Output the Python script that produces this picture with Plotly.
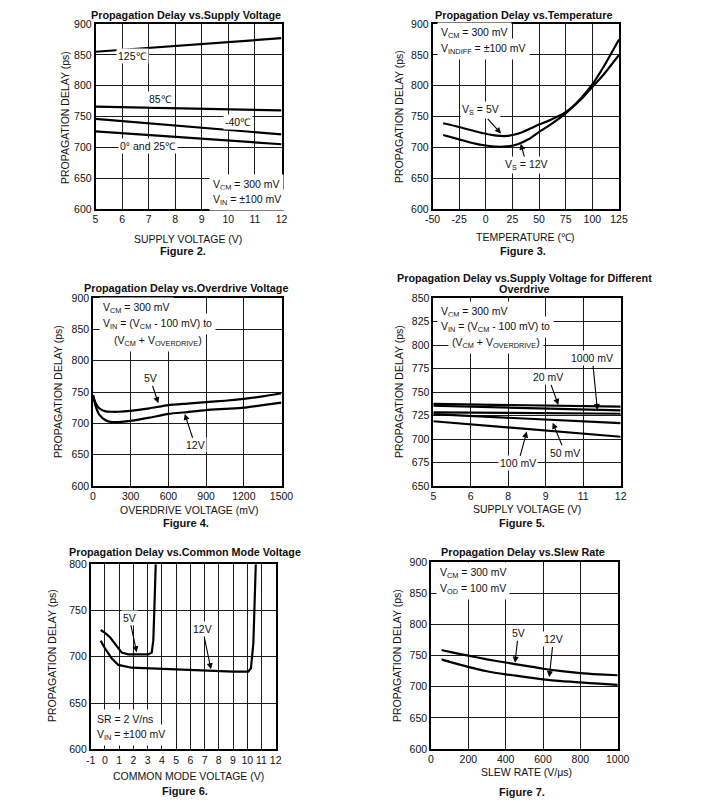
import plotly.graph_objects as go

W, H = 708, 805
OFF = 8  # page body margin in the browser
FONT = "Liberation Sans, Arial, sans-serif"

# ---------------- data ----------------
f2_vs = [5, 8.5, 12]
f2_125 = [855, 866, 877]
f2_85 = [766, 763, 760]
f2_m40 = [746, 733, 721]
f2_0_25 = [726, 715, 705]

f3_temp = [-40, -25, -10, 0, 10, 20, 30, 40, 50, 60, 75, 90, 100, 110, 125]
f3_5v = [739, 733, 726, 722, 719, 718.5, 722, 729, 737, 744, 757, 779, 798, 817, 850]
f3_12v = [720, 713, 706, 703, 701, 701.5, 705, 713, 725, 736, 755, 781, 802, 829, 875]
f3_tickvals = [-50, -25, 0, 25, 50, 75, 100, 125]
f3_ticktext = ["-50", "-25", "0", "25", "50", "75", "100", "125"]

f4_od = [0, 20, 50, 100, 150, 200, 300, 450, 600, 750, 900, 1050, 1200, 1350, 1500]
f4_5v = [745, 733, 724, 719, 718.5, 718.5, 720, 724, 729, 731.5, 734, 736, 739, 743, 748]
f4_12v = [745, 728, 714, 705, 702, 702, 704, 709, 715, 718, 721, 723, 725, 729, 733]

f5_vs = [5, 12]
f5_20mv = [737.5, 734.5]
f5_1000mv = [735.5, 730.5]
f5_other = [728.5, 727]
f5_50mv = [726.5, 717]
f5_100mv = [719, 702.5]
f5_tickvals = [5, 6.4, 7.8, 9.2, 10.6, 12]
f5_ticktext = ["5", "6", "8", "9", "11", "12"]

f6_5v_x = [-0.3, 0.0, 0.36, 0.94, 1.18, 1.64, 2.5, 3.05, 3.29, 3.40, 3.47, 3.57]
f6_5v = [729, 726, 721, 710, 704.5, 702.7, 702.7, 702.7, 704.5, 718, 750, 800]
f6_12v_x = [-0.3, 0.0, 0.47, 0.94, 1.88, 3, 4.45, 6, 7.5, 9, 10.07, 10.26, 10.43, 10.55, 10.6]
f6_12v = [717.4, 709.2, 698.4, 691.2, 688.2, 687.5, 687.1, 686, 684.6, 684, 683.9, 687.6, 714.6, 768.6, 800]
f6_tickvals = list(range(-1, 13))
f6_ticktext = [str(v) for v in f6_tickvals]

f7_sr = [57, 100, 200, 300, 400, 500, 600, 700, 800, 900, 1000]
f7_5v = [759, 756, 750, 744, 739, 734, 729, 725, 722, 720, 718.5]
f7_12v = [744, 740, 732, 725, 720, 716, 712, 709, 707, 705, 703]

# ---------------- layout helpers ----------------
def px(x):
    return (x - OFF) / W

def py(y):
    return 1 - (y - OFF) / H

def xd(a, b):
    return [px(a), px(b)]

def yd(top, bot):
    return [py(bot), py(top)]

panels = [
    dict(x=(95.5, 281.5), y=(24, 209), xr=[5, 12], yr=[600, 900], xdt=1, ydt=50),
    dict(x=(432.5, 619), y=(24, 209), xr=[-50, 125], yr=[600, 900], xt=(f3_tickvals, f3_ticktext), ydt=50),
    dict(x=(93, 281.5), y=(298, 486), xr=[0, 1500], yr=[600, 900], xdt=300, ydt=50),
    dict(x=(433.3, 620.7), y=(298.3, 486), xr=[5, 12], yr=[650, 850], xt=(f5_tickvals, f5_ticktext), ydt=25),
    dict(x=(90.7, 275.7), y=(564.3, 749.3), xr=[-1, 12], yr=[600, 800], xt=(f6_tickvals, f6_ticktext), ydt=50),
    dict(x=(431, 617.7), y=(562.3, 749), xr=[0, 1000], yr=[600, 900], xdt=200, ydt=50),
]

fig = go.Figure()
layout = dict(
    width=W, height=H, autosize=False, margin=dict(l=0, r=0, t=0, b=0, pad=0, autoexpand=False),
    paper_bgcolor="white", plot_bgcolor="white", showlegend=False,
    font=dict(family=FONT, size=10, color="#111"),
)
GRID = "#1a1a1a"
for i, p in enumerate(panels, start=1):
    sx = "" if i == 1 else str(i)
    xa = dict(domain=xd(*p["x"]), range=p["xr"], anchor="y" + sx, automargin=False,
              showgrid=True, gridcolor=GRID, gridwidth=1.3,
              showline=True, linecolor="black", linewidth=1.6, mirror=True,
              zeroline=False, ticks="", tickfont=dict(family=FONT, size=10.5, color="#111"),
              fixedrange=True)
    if "xt" in p:
        xa.update(tickmode="array", tickvals=p["xt"][0], ticktext=p["xt"][1])
    else:
        xa.update(tick0=p["xr"][0], dtick=p["xdt"])
    ya = dict(domain=yd(*p["y"]), range=p["yr"], anchor="x" + sx, automargin=False,
              showgrid=True, gridcolor=GRID, gridwidth=1.3,
              showline=True, linecolor="black", linewidth=1.6, mirror=True,
              zeroline=False, ticks="", tick0=p["yr"][0], dtick=p["ydt"],
              tickfont=dict(family=FONT, size=10.5, color="#111"), fixedrange=True)
    layout["xaxis" + sx] = xa
    layout["yaxis" + sx] = ya

def line(x, y, n, shape="spline"):
    sx = "" if n == 1 else str(n)
    fig.add_trace(go.Scatter(x=x, y=y, mode="lines", xaxis="x" + sx, yaxis="y" + sx,
                             line=dict(color="black", width=2.2, shape=shape,
                                       smoothing=0.6 if shape == "spline" else None),
                             hoverinfo="skip"))

line(f2_vs, f2_125, 1, "linear")
line(f2_vs, f2_85, 1, "linear")
line(f2_vs, f2_m40, 1, "linear")
line(f2_vs, f2_0_25, 1, "linear")
line(f3_temp, f3_5v, 2)
line(f3_temp, f3_12v, 2)
line(f4_od, f4_5v, 3)
line(f4_od, f4_12v, 3)
line(f5_vs, f5_20mv, 4, "linear")
line(f5_vs, f5_1000mv, 4, "linear")
line(f5_vs, f5_other, 4, "linear")
line(f5_vs, f5_50mv, 4, "linear")
line(f5_vs, f5_100mv, 4, "linear")
line(f6_5v_x, f6_5v, 5, "linear")
line(f6_12v_x, f6_12v, 5, "linear")
line(f7_sr, f7_5v, 6)
line(f7_sr, f7_12v, 6)

ann = []

def ptext(text, x, y, size=10, bold=False, xanchor="center", angle=0):
    ann.append(dict(text=("<b>%s</b>" % text) if bold else text, x=px(x), y=py(y),
                    xref="paper", yref="paper", showarrow=False, xanchor=xanchor,
                    yanchor="middle", textangle=angle,
                    font=dict(family=FONT, size=size, color="#111")))

def boxline(text, x, y, size=10.5):
    ann.append(dict(text=text, x=px(x), y=py(y), xref="paper", yref="paper",
                    showarrow=False, xanchor="left", yanchor="middle",
                    bgcolor="white", borderpad=3,
                    font=dict(family=FONT, size=size, color="#111")))

def dlabel(text, x, y, n, size=10.5):
    sx = "" if n == 1 else str(n)
    ann.append(dict(text=text, x=x, y=y, xref="x" + sx, yref="y" + sx, showarrow=False,
                    bgcolor="white", borderpad=1,
                    font=dict(family=FONT, size=size, color="#111")))

def arrow(text, x, y, ax, ay, n, size=10.5):
    sx = "" if n == 1 else str(n)
    ann.append(dict(text=text, x=x, y=y, ax=ax, ay=ay, xref="x" + sx, yref="y" + sx,
                    axref="x" + sx, ayref="y" + sx, showarrow=True, arrowhead=2,
                    arrowsize=1.1, arrowwidth=1.1, arrowcolor="black", standoff=0,
                    bgcolor="white", borderpad=1,
                    font=dict(family=FONT, size=size, color="#111")))

ptext("Propagation Delay vs.Supply Voltage", 186, 14.5, 10.8, True)
ptext("Propagation Delay vs.Temperature", 523, 14.5, 10.8, True)
ptext("Propagation Delay vs.Overdrive Voltage", 186, 288, 10.8, True)
ptext("Propagation Delay vs.Supply Voltage for Different", 524, 278, 10.8, True)
ptext("Overdrive", 524, 289, 10.8, True)
ptext("Propagation Delay vs.Common Mode Voltage", 185.5, 552, 10.8, True)
ptext("Propagation Delay vs.Slew Rate", 523, 552, 10.8, True)

ptext("SUPPLY VOLTAGE (V)", 188, 239, 10.5)
ptext("Figure 2.", 183, 251, 11, True)
ptext("TEMPERATURE (\u2103)", 525, 237, 10.5)
ptext("Figure 3.", 523, 251, 11, True)
ptext("OVERDRIVE VOLTAGE (mV)", 189, 510, 10.5)
ptext("Figure 4.", 186, 523, 11, True)
ptext("SUPPLY VOLTAGE (V)", 527, 509, 10.5)
ptext("Figure 5.", 522, 523, 11, True)
ptext("COMMON MODE VOLTAGE (V)", 188, 776, 10.5)
ptext("Figure 6.", 185, 791, 11, True)
ptext("SLEW RATE (V/\u03bcs)", 526, 772, 10.5)
ptext("Figure 7.", 522, 792, 11, True)

ptext("PROPAGATION DELAY (ps)", 65, 117, 10.5, angle=-90)
ptext("PROPAGATION DELAY (ps)", 399, 117, 10.5, angle=-90)
ptext("PROPAGATION DELAY (ps)", 58, 392, 10.5, angle=-90)
ptext("PROPAGATION DELAY (ps)", 399, 392, 10.5, angle=-90)
ptext("PROPAGATION DELAY (ps)", 52, 656, 10.5, angle=-90)
ptext("PROPAGATION DELAY (ps)", 397, 656, 10.5, angle=-90)

boxline("V<sub>CM</sub> = 300 mV", 209, 185)
boxline("V<sub>IN</sub> = \u00b1100 mV", 209, 200)
boxline("V<sub>CM</sub> = 300 mV", 437, 33)
boxline("V<sub>INDIFF</sub> = \u00b1100 mV", 437, 49)
boxline("V<sub>CM</sub> = 300 mV", 99, 308)
boxline("V<sub>IN</sub> = (V<sub>CM</sub> - 100 mV) to", 99, 324)
boxline("(V<sub>CM</sub> + V<sub>OVERDRIVE</sub>)", 110, 341)
boxline("V<sub>CM</sub> = 300 mV", 437, 312)
boxline("V<sub>IN</sub> = (V<sub>CM</sub> - 100 mV) to", 437, 327)
boxline("(V<sub>CM</sub> + V<sub>OVERDRIVE</sub>)", 448, 343)
boxline("SR = 2 V/ns", 93, 719)
boxline("V<sub>IN</sub> = \u00b1100 mV", 93, 735)
boxline("V<sub>CM</sub> = 300 mV", 436, 573)
boxline("V<sub>OD</sub> = 100 mV", 436, 589)

dlabel("125\u2103", 6.41, 848, 1)
dlabel("85\u2103", 7.43, 778, 1)
dlabel("-40\u2103", 10.36, 741, 1)
dlabel("0\u00b0 and 25\u2103", 6.98, 702, 1)

arrow("V<sub>S</sub> = 5V", 14.3, 722.5, -5.4, 760, 2)
arrow("V<sub>S</sub> = 12V", 32.8, 706, 38.4, 671, 2)

arrow("5V", 520, 732, 454, 772, 3)
arrow("12V", 730, 715, 812, 665, 3)

arrow("1000 mV", 11.13, 731, 10.94, 786, 4)
arrow("20 mV", 9.67, 736.3, 9.3, 765.8, 4)
arrow("50 mV", 9.46, 717.5, 9.92, 685.5, 4)
arrow("100 mV", 8.49, 708, 8.17, 674.2, 4)

arrow("5V", 2.23, 705, 1.71, 742.3, 5)
arrow("12V", 7.45, 686.5, 6.87, 729.7, 5)

arrow("5V", 450, 738.7, 467.6, 786, 6)
arrow("12V", 633.6, 715.5, 655, 776, 6)

layout["annotations"] = ann
fig.update_layout(**layout)
fig.write_html("out.html")
